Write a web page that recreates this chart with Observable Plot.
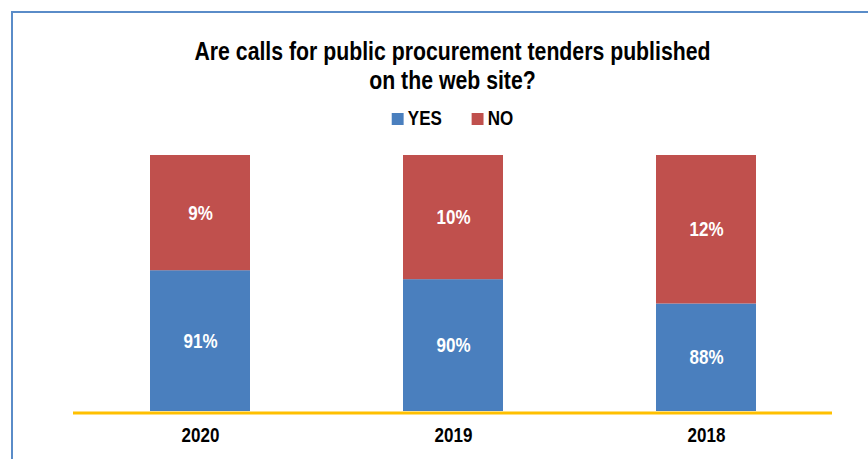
<!DOCTYPE html>
<html>
<head>
<meta charset="utf-8">
<script src="https://cdn.jsdelivr.net/npm/d3@7"></script>
<script src="https://cdn.jsdelivr.net/npm/@observablehq/plot@0.6"></script>
<style>
  html, body { margin: 0; padding: 0; background: #fff; width: 868px; height: 459px; overflow: hidden; }
  body { position: relative; font-family: "Liberation Sans", Arial, sans-serif; font-weight: bold; color: #000; }
  #frame { position: absolute; left: 11px; top: 11px; width: 900px; height: 500px; border-left: 2px solid #5a8cc8; border-top: 2px solid #5a8cc8; box-sizing: border-box; }
  #header { position: relative; height: 130px; }
  #title { position: absolute; left: 73px; width: 759px; top: 37px; text-align: center; font-size: 25px; line-height: 29px; transform: scaleX(0.85); transform-origin: center; white-space: nowrap; }
  #legend { position: absolute; left: 73px; width: 759px; top: 106px; display: flex; justify-content: center; gap: 35px; font-size: 20px; line-height: 24px; transform: scaleX(0.85); transform-origin: center; }
  .item { display: flex; align-items: center; }
  .sw { width: 14px; height: 12px; margin-right: 5px; margin-top: 2px; }
  #chart { position: relative; }
  #chart svg { display: block; }
</style>
</head>
<body>
<div id="frame"></div>
<div id="header">
  <div id="title">Are calls for public procurement tenders published<br>on the web site?</div>
  <div id="legend"></div>
</div>
<div id="chart"></div>
<script>
const years = ["2020", "2019", "2018"];
const answers = ["YES", "NO"];
const yesValues = [91, 90.3, 88.4];
const noValues = [9, 9.7, 11.6];
const colors = ["#4a7fbe", "#c0504d"];
const yMin = 80;

const rows = [];
years.forEach((yr, i) => {
  rows.push({year: yr, answer: "YES", y1: yMin, y2: yesValues[i], label: Math.round(yesValues[i]) + "%"});
  rows.push({year: yr, answer: "NO", y1: yesValues[i], y2: yesValues[i] + noValues[i], label: Math.round(noValues[i]) + "%"});
});

const legend = document.getElementById("legend");
answers.forEach((a, i) => {
  const it = document.createElement("div");
  it.className = "item";
  it.innerHTML = `<span class="sw" style="background:${colors[i]}"></span><span>${a}</span>`;
  legend.appendChild(it);
});

const chart = Plot.plot({
  width: 868,
  height: 329,
  marginTop: 25,
  marginBottom: 48,
  marginLeft: 73,
  marginRight: 36,
  style: {fontFamily: '"Liberation Sans", Arial, sans-serif', fontWeight: "bold", fontSize: "20px", color: "#000", background: "transparent"},
  x: {domain: years, paddingInner: 0.605, paddingOuter: 0.3025, label: null, tickSize: 0, tickPadding: 16},
  y: {domain: [yMin, 100], clamp: true, axis: null},
  color: {domain: answers, range: colors},
  marks: [
    Plot.barY(rows, {x: "year", y1: "y1", y2: "y2", fill: "answer", inset: 0}),
    Plot.text(rows, {x: "year", y: d => (d.y1 + d.y2) / 2, text: "label", fill: "white", fontSize: 20, fontWeight: "bold"}),
    Plot.ruleY([yMin], {stroke: "#ffc000", strokeWidth: 3, dy: 1.5})
  ]
});
// condense the text glyphs horizontally, keeping each label's anchor in place
chart.querySelectorAll("text").forEach(t => {
  const x = +(t.getAttribute("x") || 0);
  const tr = t.getAttribute("transform") || "";
  t.removeAttribute("x");
  t.setAttribute("transform", `${tr} translate(${x},0) scale(0.85,1)`);
});
document.getElementById("chart").appendChild(chart);
</script>
</body>
</html>
